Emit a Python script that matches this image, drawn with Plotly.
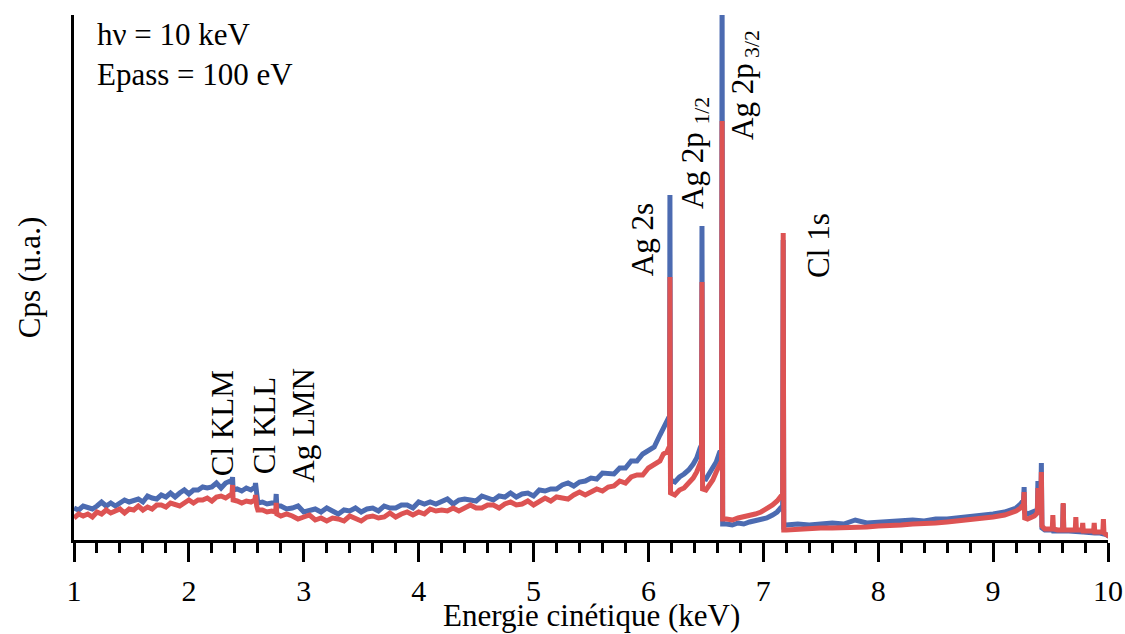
import plotly.graph_objects as go

# ---------------- data ----------------
energy_kev = [
    1.00, 1.04, 1.08, 1.12, 1.16, 1.20, 1.24, 1.28, 1.32, 1.36, 1.40, 1.44, 1.48, 1.52, 1.56, 1.60,
    1.64, 1.68, 1.72, 1.76, 1.80, 1.84, 1.88, 1.92, 1.96, 2.00, 2.04, 2.08, 2.12, 2.16, 2.20, 2.24,
    2.28, 2.32, 2.36,
    2.375, 2.38, 2.385, 2.42, 2.46, 2.50, 2.54, 2.575, 2.58, 2.59, 2.60, 2.64, 2.68, 2.72,
    2.755, 2.76, 2.765,
    2.80, 2.85, 2.90, 2.95, 3.00, 3.05, 3.10, 3.15, 3.20, 3.25, 3.30, 3.35, 3.40, 3.45, 3.50, 3.55,
    3.60, 3.65, 3.70, 3.75, 3.80, 3.85, 3.90, 3.95, 4.00, 4.05, 4.10, 4.15, 4.20, 4.25, 4.30, 4.35,
    4.40, 4.45, 4.50, 4.55, 4.60, 4.65, 4.70, 4.75, 4.80, 4.85, 4.90, 4.95, 5.00, 5.05, 5.10, 5.15,
    5.20, 5.25, 5.30, 5.35, 5.40, 5.45, 5.50, 5.55, 5.60, 5.65, 5.70, 5.75, 5.80, 5.85, 5.90, 5.95,
    6.00, 6.05, 6.10,
    6.13, 6.16, 6.184, 6.187, 6.192, 6.23, 6.27, 6.31, 6.35, 6.39, 6.42, 6.45, 6.462, 6.466, 6.471,
    6.50, 6.53, 6.56, 6.59, 6.62, 6.636, 6.641, 6.646,
    6.68, 6.73, 6.78, 6.83, 6.88, 6.93, 6.98, 7.03, 7.08, 7.12, 7.15, 7.168, 7.173, 7.178,
    7.20, 7.30, 7.40, 7.50, 7.60, 7.70, 7.80, 7.90, 8.00, 8.10, 8.20, 8.30, 8.40, 8.50, 8.60, 8.70,
    8.80, 8.90, 9.00, 9.10, 9.20,
    9.24, 9.265, 9.27, 9.275, 9.30, 9.33, 9.36, 9.385, 9.39, 9.395, 9.405, 9.415, 9.42, 9.425,
    9.45, 9.49, 9.515, 9.52, 9.525, 9.56, 9.605, 9.61, 9.615, 9.66, 9.715, 9.72, 9.725, 9.775,
    9.78, 9.785, 9.83, 9.875, 9.88, 9.885, 9.93, 9.955, 9.96, 9.965, 9.99, 10.02,
]

cps_blue = [
    32, 30, 34, 32, 31, 34, 38, 34, 37, 34, 37, 40, 38, 39, 41, 38,
    44, 42, 41, 45, 43, 47, 43, 47, 50, 46, 50, 50, 53, 52, 53, 57,
    52, 57, 59,
    57, 63, 50, 51, 49, 52, 50, 53, 57, 42, 37, 38, 36, 37,
    37, 46, 34,
    34, 31, 32, 34, 28, 30, 31, 28, 32, 29, 26, 30, 29, 32, 28, 31,
    32, 29, 34, 32, 32, 35, 35, 32, 38, 36, 38, 36, 38, 41, 36, 40,
    41, 40, 39, 44, 42, 40, 44, 43, 47, 43, 46, 47, 44, 50, 49, 51,
    51, 55, 57, 54, 58, 59, 62, 61, 67, 67, 66, 72, 72, 79, 79, 86,
    89, 93, 105,
    112, 118, 124, 345, 60, 58, 63, 66, 70, 76, 82, 92, 95, 314, 62,
    61, 66, 71, 78, 88, 90, 560, 16,
    16, 15, 17, 16, 18, 19, 21, 22, 25, 28, 32, 34, 300, 14,
    15, 16, 15, 16, 17, 16, 20, 17, 18, 18, 19, 20, 19, 21, 21, 22,
    24, 24, 26, 28, 32,
    36, 40, 53, 28, 26, 27, 28, 30, 59, 33, 32, 34, 77, 12,
    10, 10, 10, 11, 9, 9, 9, 36, 9, 9, 8, 8, 8, 8,
    8, 8, 7, 7, 7, 7, 7, 7, 7, 6, 5, 3,
]

cps_red = [
    22, 26, 24, 26, 23, 28, 26, 30, 27, 29, 31, 27, 31, 30, 34, 30,
    33, 31, 35, 35, 33, 37, 35, 34, 37, 40, 37, 40, 40, 42, 39, 43,
    44, 42, 45,
    45, 55, 40, 39, 37, 39, 38, 40, 45, 34, 30, 30, 28, 29,
    28, 37, 26,
    24, 26, 24, 21, 23, 25, 20, 22, 19, 22, 21, 19, 24, 21, 19, 23,
    24, 22, 23, 27, 23, 26, 28, 25, 28, 26, 31, 29, 30, 29, 32, 29,
    32, 35, 32, 32, 35, 35, 32, 36, 38, 35, 36, 39, 35, 39, 42, 39,
    43, 42, 41, 45, 48, 45, 48, 51, 49, 53, 54, 59, 57, 63, 65, 65,
    72, 76, 79,
    86, 88, 94, 263, 47, 45, 50, 52, 57, 62, 68, 78, 80, 258, 51,
    50, 55, 60, 68, 76, 79, 419, 21,
    21, 20, 22, 23, 24, 26, 28, 31, 35, 39, 44, 46, 307, 10,
    10, 11, 11, 12, 12, 12, 13, 13, 14, 14, 15, 16, 16, 17, 18, 19,
    20, 21, 23, 25, 29,
    32, 36, 48, 22, 21, 22, 24, 27, 52, 28, 28, 30, 68, 14,
    11, 11, 11, 25, 11, 10, 10, 37, 10, 10, 10, 23, 10, 10,
    17, 9, 9, 9, 17, 8, 8, 8, 21, 7, 5, 3,
]

x_ticks = [1, 2, 3, 4, 5, 6, 7, 8, 9, 10]

peak_labels = ["Cl KLM", "Cl KLL", "Ag LMN", "Ag 2s",
               "Ag 2p <sub>1/2</sub>", "Ag 2p<sub> 3/2</sub>", "Cl 1s"]
peak_label_pos = [(2.29, 117), (2.655, 114), (2.99, 115), (5.945, 300),
                  (6.405, 387), (6.84, 455), (7.475, 295)]

info_text = "hν = 10 keV<br>Epass = 100 eV"

# ---------------- figure ----------------
FONT = "Liberation Serif, Times New Roman, serif"
BLUE = "#4C6BB1"
RED = "#DD5353"
FS = 31

fig = go.Figure()
fig.add_trace(go.Scatter(x=energy_kev, y=cps_blue, mode="lines",
                         line=dict(color=BLUE, width=5), showlegend=False))
fig.add_trace(go.Scatter(x=energy_kev, y=cps_red, mode="lines",
                         line=dict(color=RED, width=5), showlegend=False))

for txt, (px, py) in zip(peak_labels, peak_label_pos):
    fig.add_annotation(x=px, y=py, xref="x", yref="y", text=txt, textangle=-90,
                       showarrow=False, font=dict(family=FONT, size=FS, color="black"))

fig.add_annotation(x=0.02, y=1.0, xref="paper", yref="paper", text=info_text,
                   xanchor="left", yanchor="top", align="left", showarrow=False,
                   font=dict(family=FONT, size=FS, color="black"))

fig.add_annotation(x=0.5, y=-0.179, xref="paper", yref="paper",
                   text="Energie cinétique (keV)", xanchor="center", yanchor="bottom",
                   borderpad=0, showarrow=False, font=dict(family=FONT, size=FS, color="black"))

fig.update_layout(
    width=1125, height=634,
    margin=dict(l=74, r=17, t=15, b=94),
    paper_bgcolor="white", plot_bgcolor="white",
    font=dict(family=FONT, size=FS, color="black"),
    xaxis=dict(range=[1, 10], tickvals=x_ticks, ticktext=[str(t) for t in x_ticks],
               automargin=False,
               showline=True, linecolor="black", linewidth=3, showgrid=False, zeroline=False,
               ticks="outside", ticklen=19, tickwidth=2.5, tickcolor="black",
               ticklabelstandoff=3,
               minor=dict(dtick=0.2, ticks="outside", ticklen=10, tickwidth=2.5,
                          tickcolor="black", showgrid=False),
               tickfont=dict(family=FONT, size=30)),
    yaxis=dict(range=[0, 525], automargin=False,
               showline=True, linecolor="black", linewidth=3,
               showgrid=False, zeroline=False, showticklabels=False, ticks="",
               title=dict(text="Cps (u.a.)", font=dict(family=FONT, size=FS), standoff=22)),
)

fig.write_html("out.html")
